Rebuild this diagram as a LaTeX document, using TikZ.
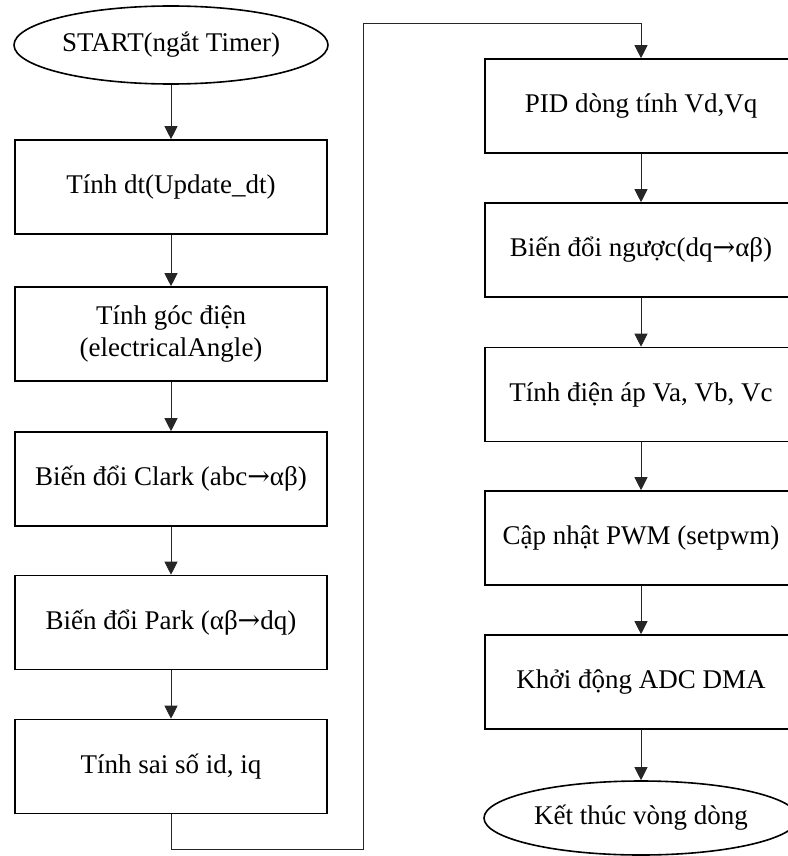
\documentclass[tikz,border=0pt]{standalone}
\usepackage{fontspec}
\setmainfont{Liberation Serif}
\newfontfamily\arrowfont{DejaVu Serif}
\newcommand{\toarrow}{{\arrowfont →}}
\usetikzlibrary{shapes.geometric,arrows.meta}
\tikzset{
  stepbox/.style={draw, line width=1.6pt, rectangle, minimum width=312pt, minimum height=94pt, inner sep=0pt, align=center, font=\fontsize{27}{32}\selectfont},
  termbox/.style={draw, line width=1.6pt, ellipse, minimum width=314pt, inner sep=0pt, align=center, font=\fontsize{27}{32}\selectfont},
  flow/.style={line width=0.9pt, draw=black!85, -{Triangle[width=13pt,length=13pt]}}
}
\begin{document}
\begin{tikzpicture}[x=1pt,y=-1pt]
\useasboundingbox (0,0) rectangle (787,856);
\node[termbox, minimum height=78pt] (start) at (171,45) {START(ngắt Timer)};
\node[stepbox] (l1) at (171,187) {Tính dt(Update\_dt)};
\node[stepbox] (l2) at (171,334) {Tính góc điện\\(electricalAngle)};
\node[stepbox] (l3) at (171,479) {Biến đổi Clark (abc\toarrow αβ)};
\node[stepbox] (l4) at (171,622.5) {Biến đổi Park (αβ\toarrow dq)};
\node[stepbox] (l5) at (171,766.5) {Tính sai số id, iq};
\node[stepbox] (r1) at (641,106) {PID dòng tính Vd,Vq};
\node[stepbox] (r2) at (641,250) {Biến đổi ngược(dq\toarrow αβ)};
\node[stepbox] (r3) at (641,394.5) {Tính điện áp Va, Vb, Vc};
\node[stepbox] (r4) at (641,538) {Cập nhật PWM (setpwm)};
\node[stepbox] (r5) at (641,682) {Khởi động ADC DMA};
\node[termbox, minimum height=74pt] (end) at (641,818) {Kết thúc vòng dòng};
\coordinate (c1) at (171,849);
\coordinate (c2) at (363,849);
\coordinate (c3) at (363,23);
\coordinate (c4) at (641,23);
\draw[flow] (start) -- (l1);
\draw[flow] (l1) -- (l2);
\draw[flow] (l2) -- (l3);
\draw[flow] (l3) -- (l4);
\draw[flow] (l4) -- (l5);
\draw[flow] (l5.south) -- (c1) -- (c2) -- (c3) -- (c4) -- (r1.north);
\draw[flow] (r1) -- (r2);
\draw[flow] (r2) -- (r3);
\draw[flow] (r3) -- (r4);
\draw[flow] (r4) -- (r5);
\draw[flow] (r5) -- (end);
\end{tikzpicture}
\end{document}
